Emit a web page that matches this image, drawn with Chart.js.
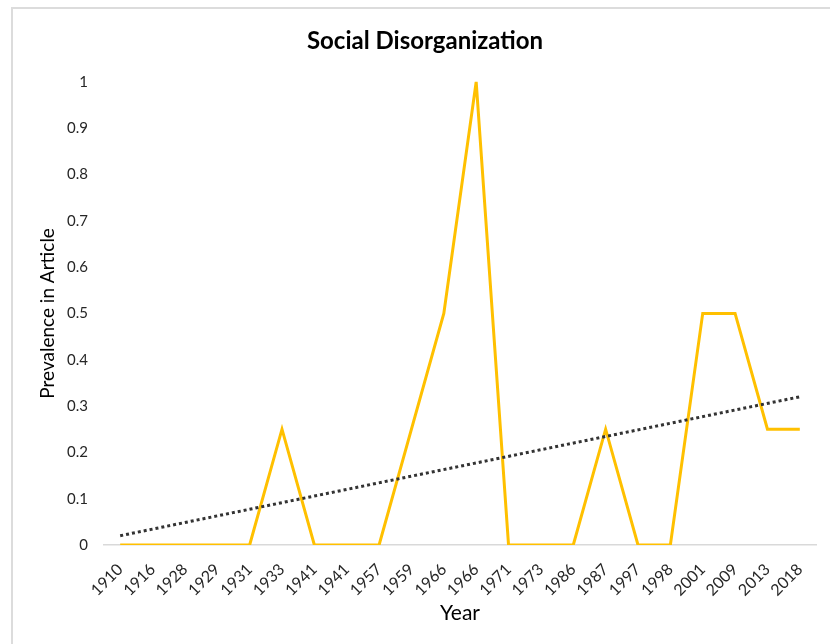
<!DOCTYPE html>
<html>
<head>
<meta charset="utf-8">
<script src="https://cdn.jsdelivr.net/npm/chart.js@4/dist/chart.umd.min.js"></script>
<style>
	html, body { margin: 0; padding: 0; background: #fff; }
	#frame {
		position: absolute; left: 11px; top: 7px; width: 819px; height: 637px;
		border-left: 2px solid #dcdcdc; border-top: 2px solid #dcdcdc;
	}
	#wrap { position: absolute; left: 0; top: 0; width: 830px; height: 644px; }
</style>
</head>
<body>
<div id="frame"></div>
<div id="wrap"><canvas id="chart"></canvas></div>
<script>
"use strict";

const years = ["1910", "1916", "1928", "1929", "1931", "1933", "1941", "1941", "1957", "1959", "1966",
	"1966", "1971", "1973", "1986", "1987", "1997", "1998", "2001", "2009", "2013", "2018"];
const prevalence = [0, 0, 0, 0, 0, 0.25, 0, 0, 0, 0.25, 0.5, 1, 0, 0, 0, 0.25, 0, 0, 0.5, 0.5, 0.25, 0.25];
// linear trendline, only the two ends
const trendStart = 0.02;
const trendEnd = 0.32;

const trend = years.map((y, i) => {
	if (i === 0) return trendStart;
	if (i === years.length - 1) return trendEnd;
	return null;
});

const fontFamily = "Lato, 'Open Sans', sans-serif";

new Chart(document.getElementById("chart"), {
	type: "line",
	data: {
		labels: years,
		datasets: [
			{
				data: prevalence,
				borderColor: "#FFC000",
				borderWidth: 3,
				pointRadius: 0,
				tension: 0,
				order: 2,
			},
			{
				data: trend,
				spanGaps: true,
				borderColor: "#333333",
				borderWidth: 3,
				borderDash: [3, 3],
				pointRadius: 0,
				order: 1,
			},
		],
	},
	options: {
		responsive: true,
		maintainAspectRatio: false,
		animation: false,
		// left padding shifts the title centre to where it sits in the picture
		layout: { padding: { left: 34, right: 14, top: 0, bottom: 0 } },
		plugins: {
			legend: { display: false },
			tooltip: { enabled: false },
			title: {
				display: true,
				text: "Social Disorganization",
				color: "#000",
				font: { family: fontFamily, size: 24, weight: "bold" },
				padding: { top: 27, bottom: 26 },
			},
		},
		scales: {
			x: {
				offset: true,
				grid: { display: true, color: "rgba(0,0,0,0)", drawTicks: false },
				border: { display: true, color: "#d9d9d9", width: 1.5 },
				ticks: {
					minRotation: 45,
					maxRotation: 45,
					autoSkip: false,
					padding: 15,
					color: "#262626",
					font: { family: fontFamily, size: 16 },
				},
				title: {
					display: true,
					text: "Year",
					color: "#000",
					font: { family: fontFamily, size: 21 },
					padding: { top: 0, bottom: 18 },
				},
				afterFit: (scale) => { scale.height = 99; },
			},
			y: {
				min: 0,
				max: 1,
				grid: { display: false, drawTicks: false },
				border: { display: false },
				ticks: {
					stepSize: 0.1,
					padding: 16,
					color: "#262626",
					font: { family: fontFamily, size: 15 },
					callback: (v) => String(Math.round(v * 10) / 10),
				},
				title: {
					display: true,
					text: "Prevalence in Article",
					color: "#000",
					font: { family: fontFamily, size: 19 },
					padding: { top: 2, bottom: 0 },
				},
				afterFit: (scale) => { scale.width = 70; },
			},
		},
	},
});
</script>
</body>
</html>
